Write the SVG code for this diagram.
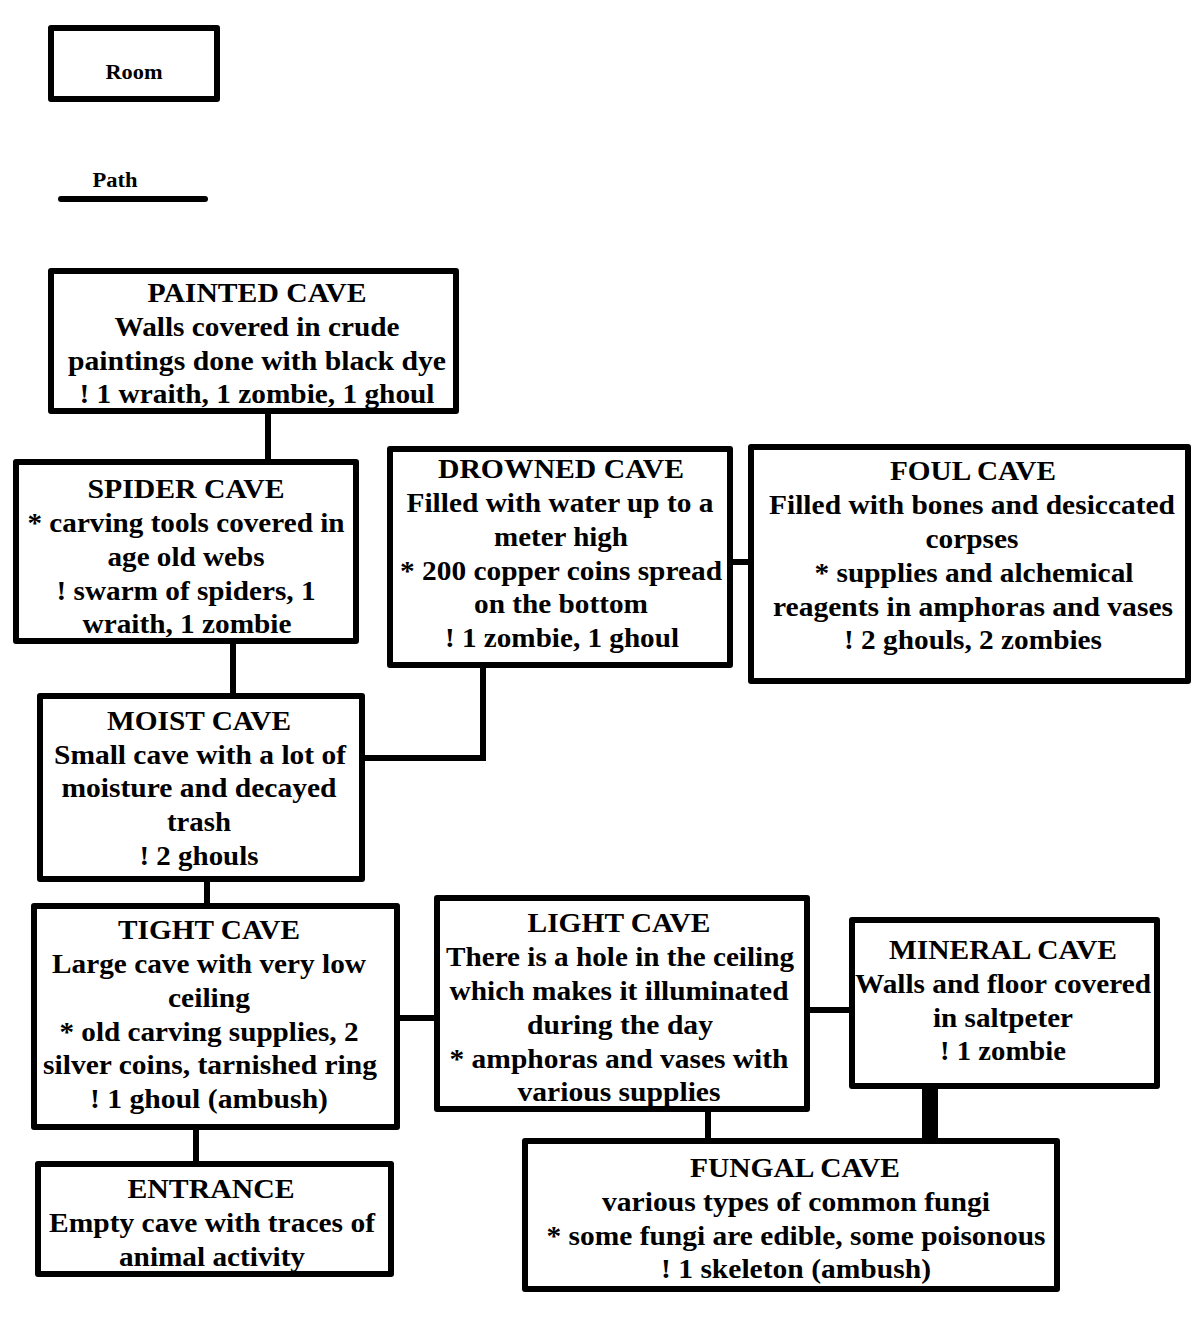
<svg xmlns="http://www.w3.org/2000/svg" width="1200" height="1334" viewBox="0 0 1200 1334">
<style>
.box{fill:#fff;stroke:#000;stroke-width:6;stroke-linejoin:round}
.c{fill:none;stroke:#000;stroke-width:6}
text{font-family:"Liberation Serif","Times New Roman",serif;font-weight:bold;font-size:27px;fill:#000;text-anchor:middle}
.s{font-size:20px}
</style>
<rect width="1200" height="1334" fill="#fff"/>
<g id="legend">
<rect class="box" x="51" y="28" width="166" height="71"/>
<text class="s" x="134" y="79" textLength="57" lengthAdjust="spacingAndGlyphs">Room</text>
<text class="s" x="115" y="187" textLength="45" lengthAdjust="spacingAndGlyphs">Path</text>
<line x1="61" y1="199" x2="205" y2="199" stroke="#000" stroke-width="6" stroke-linecap="round"/>
</g>
<g id="connectors">
<path class="c" d="M268 414V460"/>
<path class="c" d="M233 644V694"/>
<path class="c" d="M733 562H748"/>
<path class="c" d="M365 758H483V668"/>
<path class="c" d="M207 882V904"/>
<path class="c" d="M400 1018H435"/>
<path class="c" d="M810 1010H849"/>
<path d="M930 1089V1139" stroke="#000" stroke-width="16" fill="none"/>
<path class="c" d="M708 1112V1139"/>
<path class="c" d="M196 1130V1162"/>
</g>
<g id="painted">
<rect class="box" x="51" y="271" width="405" height="140"/>
<text x="257" y="302" textLength="219" lengthAdjust="spacingAndGlyphs">PAINTED CAVE</text>
<text x="257" y="336" textLength="285" lengthAdjust="spacingAndGlyphs">Walls covered in crude</text>
<text x="257" y="370" textLength="378" lengthAdjust="spacingAndGlyphs">paintings done with black dye</text>
<text x="257" y="403" textLength="355" lengthAdjust="spacingAndGlyphs">! 1 wraith, 1 zombie, 1 ghoul</text>
</g>
<g id="spider">
<rect class="box" x="16" y="462" width="340" height="179"/>
<text x="186" y="498" textLength="197" lengthAdjust="spacingAndGlyphs">SPIDER CAVE</text>
<text x="186" y="532" textLength="317" lengthAdjust="spacingAndGlyphs">* carving tools covered in</text>
<text x="186" y="566" textLength="157" lengthAdjust="spacingAndGlyphs">age old webs</text>
<text x="186" y="600" textLength="259" lengthAdjust="spacingAndGlyphs">! swarm of spiders, 1</text>
<text x="187" y="633" textLength="209" lengthAdjust="spacingAndGlyphs">wraith, 1 zombie</text>
</g>
<g id="drowned">
<rect class="box" x="390" y="449" width="340" height="216"/>
<text x="561" y="478" textLength="246" lengthAdjust="spacingAndGlyphs">DROWNED CAVE</text>
<text x="560" y="512" textLength="307" lengthAdjust="spacingAndGlyphs">Filled with water up to a</text>
<text x="561" y="546" textLength="134" lengthAdjust="spacingAndGlyphs">meter high</text>
<text x="561" y="580" textLength="322" lengthAdjust="spacingAndGlyphs">* 200 copper coins spread</text>
<text x="561" y="613" textLength="174" lengthAdjust="spacingAndGlyphs">on the bottom</text>
<text x="562" y="647" textLength="234" lengthAdjust="spacingAndGlyphs">! 1 zombie, 1 ghoul</text>
</g>
<g id="foul">
<rect class="box" x="751" y="447" width="437" height="234"/>
<text x="973" y="480" textLength="166" lengthAdjust="spacingAndGlyphs">FOUL CAVE</text>
<text x="972" y="514" textLength="406" lengthAdjust="spacingAndGlyphs">Filled with bones and desiccated</text>
<text x="972" y="548" textLength="93" lengthAdjust="spacingAndGlyphs">corpses</text>
<text x="974" y="582" textLength="319" lengthAdjust="spacingAndGlyphs">* supplies and alchemical</text>
<text x="973" y="616" textLength="400" lengthAdjust="spacingAndGlyphs">reagents in amphoras and vases</text>
<text x="973" y="649" textLength="258" lengthAdjust="spacingAndGlyphs">! 2 ghouls, 2 zombies</text>
</g>
<g id="moist">
<rect class="box" x="40" y="696" width="322" height="183"/>
<text x="199" y="730" textLength="184" lengthAdjust="spacingAndGlyphs">MOIST CAVE</text>
<text x="200" y="764" textLength="292" lengthAdjust="spacingAndGlyphs">Small cave with a lot of</text>
<text x="199" y="797" textLength="275" lengthAdjust="spacingAndGlyphs">moisture and decayed</text>
<text x="199" y="831" textLength="64" lengthAdjust="spacingAndGlyphs">trash</text>
<text x="199" y="865" textLength="119" lengthAdjust="spacingAndGlyphs">! 2 ghouls</text>
</g>
<g id="tight">
<rect class="box" x="34" y="906" width="363" height="221"/>
<text x="209" y="939" textLength="182" lengthAdjust="spacingAndGlyphs">TIGHT CAVE</text>
<text x="209" y="973" textLength="314" lengthAdjust="spacingAndGlyphs">Large cave with very low</text>
<text x="209" y="1007" textLength="82" lengthAdjust="spacingAndGlyphs">ceiling</text>
<text x="209" y="1041" textLength="299" lengthAdjust="spacingAndGlyphs">* old carving supplies, 2</text>
<text x="210" y="1074" textLength="334" lengthAdjust="spacingAndGlyphs">silver coins, tarnished ring</text>
<text x="209" y="1108" textLength="238" lengthAdjust="spacingAndGlyphs">! 1 ghoul (ambush)</text>
</g>
<g id="light">
<rect class="box" x="437" y="898" width="370" height="211"/>
<text x="619" y="932" textLength="183" lengthAdjust="spacingAndGlyphs">LIGHT CAVE</text>
<text x="620" y="966" textLength="348" lengthAdjust="spacingAndGlyphs">There is a hole in the ceiling</text>
<text x="619" y="1000" textLength="339" lengthAdjust="spacingAndGlyphs">which makes it illuminated</text>
<text x="620" y="1034" textLength="186" lengthAdjust="spacingAndGlyphs">during the day</text>
<text x="619" y="1068" textLength="339" lengthAdjust="spacingAndGlyphs">* amphoras and vases with</text>
<text x="619" y="1101" textLength="203" lengthAdjust="spacingAndGlyphs">various supplies</text>
</g>
<g id="mineral">
<rect class="box" x="852" y="920" width="305" height="166"/>
<text x="1003" y="959" textLength="228" lengthAdjust="spacingAndGlyphs">MINERAL CAVE</text>
<text x="1003" y="993" textLength="296" lengthAdjust="spacingAndGlyphs">Walls and floor covered</text>
<text x="1003" y="1027" textLength="140" lengthAdjust="spacingAndGlyphs">in saltpeter</text>
<text x="1003" y="1060" textLength="126" lengthAdjust="spacingAndGlyphs">! 1 zombie</text>
</g>
<g id="fungal">
<rect class="box" x="525" y="1141" width="532" height="148"/>
<text x="795" y="1177" textLength="210" lengthAdjust="spacingAndGlyphs">FUNGAL CAVE</text>
<text x="796" y="1211" textLength="388" lengthAdjust="spacingAndGlyphs">various types of common fungi</text>
<text x="796" y="1245" textLength="499" lengthAdjust="spacingAndGlyphs">* some fungi are edible, some poisonous</text>
<text x="796" y="1278" textLength="270" lengthAdjust="spacingAndGlyphs">! 1 skeleton (ambush)</text>
</g>
<g id="entrance">
<rect class="box" x="38" y="1164" width="353" height="110"/>
<text x="211" y="1198" textLength="167" lengthAdjust="spacingAndGlyphs">ENTRANCE</text>
<text x="212" y="1232" textLength="326" lengthAdjust="spacingAndGlyphs">Empty cave with traces of</text>
<text x="212" y="1266" textLength="186" lengthAdjust="spacingAndGlyphs">animal activity</text>
</g>
</svg>
